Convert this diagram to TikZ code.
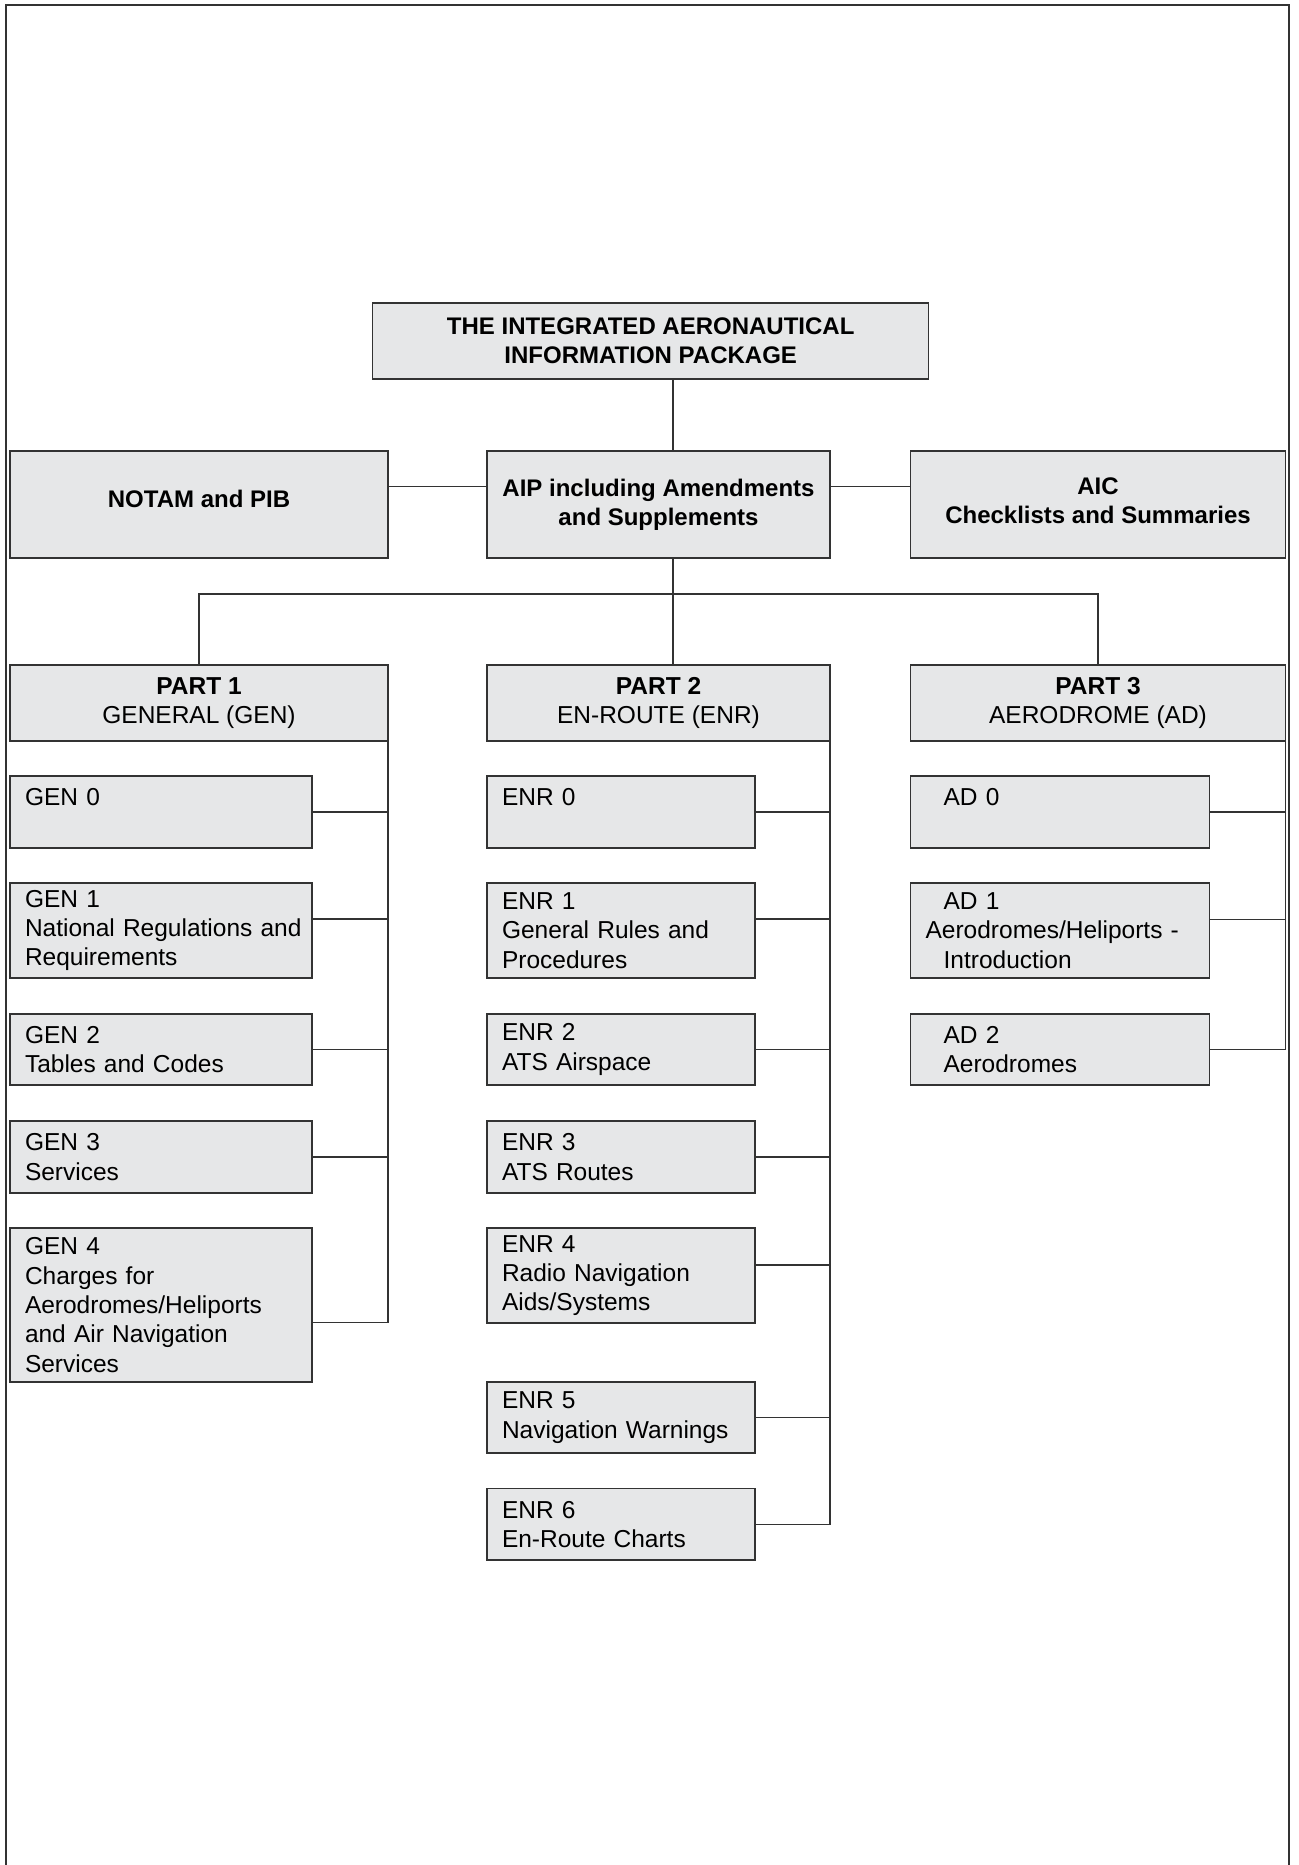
\documentclass[tikz,border=0pt]{standalone}
\usepackage{fontspec}
\setmainfont{Liberation Sans}
\definecolor{boxgray}{HTML}{E6E7E8}
\definecolor{linegray}{HTML}{333333}

\begin{document}
\begin{tikzpicture}[x=1pt, y=-1pt,
  every node/.style={font=\fontsize{24.5}{29.3}\selectfont, outer sep=0pt},
  bold font/.style={font=\fontsize{24}{29.3}\selectfont\bfseries},
  grey box/.style={draw=linegray, line width=1.1pt, fill=boxgray, inner xsep=15pt, inner ysep=0pt},
  sub box/.style={grey box, anchor=north west, align=left},
  gen box/.style={sub box, minimum width=302pt, text width=272pt},
  enr box/.style={sub box, minimum width=268pt, text width=238pt},
  ad box/.style={sub box, minimum width=299pt, text width=269pt},
  link/.style={draw=linegray, line width=1.1pt}]

  \newcommand\XGEN{10}
  \newcommand\XENR{487}
  \newcommand\XAD{910.6}

  \useasboundingbox (0,0) rectangle (1298,1865);

  % frame
  \draw[link] (6,1865) -- (6,5) -- (1289,5) -- (1289,1865);

  % top of the tree
  \node[grey box, bold font, align=center, minimum width=556pt, minimum height=76pt]
    (package) at (650.7,341) {THE INTEGRATED AERONAUTICAL\\INFORMATION PACKAGE};

  \node[grey box, bold font, minimum width=378pt, minimum height=107pt, text depth=12pt]
    (notam) at (199,504.5) {NOTAM and PIB};
  \node[grey box, bold font, align=center, minimum width=343pt, minimum height=107pt]
    (aip) at (658.5,504.5) {AIP including Amendments\\and Supplements};
  \node[grey box, bold font, align=center, minimum width=375pt, minimum height=107pt]
    (aic) at (1098,504.5) {AIC\\Checklists and Summaries\\[-22pt]\mbox{}};

  \node[grey box, align=center, minimum width=378pt, minimum height=76pt]
    (part1) at (199,703) {\textbf{PART 1}\\GENERAL (GEN)};
  \node[grey box, align=center, minimum width=343pt, minimum height=76pt]
    (part2) at (658.5,703) {\textbf{PART 2}\\EN-ROUTE (ENR)};
  \node[grey box, align=center, minimum width=375pt, minimum height=76pt]
    (part3) at (1098,703) {\textbf{PART 3}\\AERODROME (AD)};

  \coordinate (trunk) at (673,0);
  \coordinate (bus) at (673,594);

  \draw[link] (package.south -| trunk) -- (aip.north -| trunk);
  \draw[link] ([yshift=17.8pt]notam.east) -- ([yshift=17.8pt]aip.west);
  \draw[link] ([yshift=17.8pt]aip.east) -- ([yshift=17.8pt]aic.west);
  \draw[link] (aip.south -| bus) -- (bus);
  \draw[link] (part1.north) -- (part1.north |- bus) -- (part3.north |- bus) -- (part3.north);
  \draw[link] (bus) -- (part2.north -| bus);

  % part 1
  \node[gen box, minimum height=72pt] (gen0) at (\XGEN,776) {GEN 0\\\mbox{}};
  \node[gen box, minimum height=95pt] (gen1) at (\XGEN,883)
    {GEN 1\\\mbox{National Regulations and}\\Requirements};
  \node[gen box, minimum height=71pt] (gen2) at (\XGEN,1014) {GEN 2\\Tables and Codes};
  \node[gen box, minimum height=72pt] (gen3) at (\XGEN,1121) {GEN 3\\Services};
  \node[gen box, minimum height=154pt] (gen4) at (\XGEN,1228)
    {GEN 4\\Charges for\\Aerodromes/Heliports\\and Air Navigation\\Services};

  \draw[link] (part1.south east) |- ([yshift=-17.5pt]gen4.east);
  \draw[link] (gen0.east) -| (part1.south east);
  \draw[link] ([yshift=11.5pt]gen1.east) -| (part1.south east);
  \draw[link] (gen2.east) -| (part1.south east);
  \draw[link] (gen3.east) -| (part1.south east);

  % part 2
  \node[enr box, minimum height=72pt] (enr0) at (\XENR,776) {ENR 0\\\mbox{}};
  \node[enr box, minimum height=95pt] (enr1) at (\XENR,883)
    {ENR 1\\General Rules and\\Procedures};
  \node[enr box, minimum height=71pt] (enr2) at (\XENR,1014) {ENR 2\\ATS Airspace};
  \node[enr box, minimum height=72pt] (enr3) at (\XENR,1121) {ENR 3\\ATS Routes};
  \node[enr box, minimum height=95pt] (enr4) at (\XENR,1228)
    {ENR 4\\Radio Navigation\\Aids/Systems};
  \node[enr box, minimum height=71pt] (enr5) at (\XENR,1382) {ENR 5\\Navigation Warnings};
  \node[enr box, minimum height=71.5pt] (enr6) at (\XENR,1488.5) {ENR 6\\En-Route Charts};

  \draw[link] (part2.south east) |- (enr6.east);
  \draw[link] (enr0.east) -| (part2.south east);
  \draw[link] ([yshift=11.5pt]enr1.east) -| (part2.south east);
  \draw[link] (enr2.east) -| (part2.south east);
  \draw[link] (enr3.east) -| (part2.south east);
  \draw[link] ([yshift=10.5pt]enr4.east) -| (part2.south east);
  \draw[link] (enr5.east) -| (part2.south east);

  % part 3
  \node[ad box, minimum height=72pt] (ad0) at (\XAD,776) {\hspace*{18pt}AD 0\\\mbox{}};
  \node[ad box, minimum height=95pt] (ad1) at (\XAD,883)
    {\hspace*{18pt}AD 1\\Aerodromes/Heliports -\\\hspace*{18pt}Introduction};
  \node[ad box, minimum height=71pt] (ad2) at (\XAD,1014)
    {\hspace*{18pt}AD 2\\\hspace*{18pt}Aerodromes};

  \draw[link] (part3.south east) |- (ad2.east);
  \draw[link] (ad0.east) -| (part3.south east);
  \draw[link] ([yshift=11pt]ad1.east) -| (part3.south east);

\end{tikzpicture}
\end{document}
